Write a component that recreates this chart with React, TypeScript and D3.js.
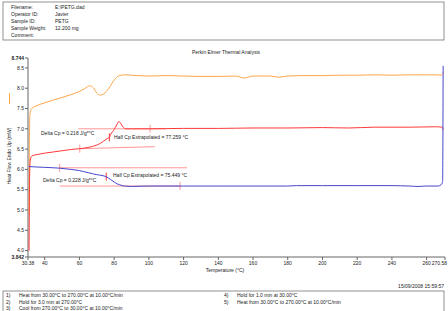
import * as d3 from "d3";

const headerLabels = ["Filename:", "Operator ID:", "Sample ID:", "Sample Weight:", "Comment:"];
const headerValues = ["E:\\PETG.dad", "Javier", "PETG", "12.200 mg", ""];

const xTickValues = [30.38, 40, 60, 80, 100, 120, 140, 160, 180, 200, 220, 240, 260, 270.58];
const xTickLabels = ["30.38", "40", "60", "80", "100", "120", "140", "160", "180", "200", "220", "240", "260", "270.58"];
const yTickValues = [8.744, 8.5, 8.0, 7.5, 7.0, 6.5, 6.0, 5.5, 5.0, 4.5, 4.0, 3.842];
const yTickLabels = ["8.744", "8.5", "8.0", "7.5", "7.0", "6.5", "6.0", "5.5", "5.0", "4.5", "4.0", "3.842"];

// orange trace (top)
const topTemps = [31.0, 31.2, 31.5, 32.5, 35, 40, 45, 50, 55, 60, 63, 66, 68, 70, 72, 74, 77, 80, 82.5, 86, 90, 100, 110, 120, 130, 140, 150, 155, 160, 170, 175, 180, 190, 200, 210, 220, 230, 240, 250, 260, 265, 268.5, 269.4, 269.8];
const topFlow = [4.9, 6.8, 7.35, 7.5, 7.56, 7.64, 7.71, 7.77, 7.84, 7.92, 7.99, 8.06, 8.01, 7.88, 7.83, 7.86, 8.0, 8.2, 8.3, 8.33, 8.32, 8.3, 8.31, 8.3, 8.29, 8.29, 8.3, 8.25, 8.3, 8.3, 8.27, 8.3, 8.31, 8.31, 8.32, 8.32, 8.33, 8.32, 8.33, 8.33, 8.33, 8.32, 8.36, 8.4];

// red trace (middle)
const midTemps = [31.0, 31.3, 31.6, 32.5, 35, 40, 45, 50, 55, 60, 65, 70, 72, 74, 76, 77.3, 78, 80, 81.5, 82.7, 84, 85.2, 86.5, 90, 100, 120, 140, 160, 180, 200, 215, 230, 250, 265, 269, 269.6];
const midFlow = [4.0, 5.8, 6.2, 6.33, 6.36, 6.4, 6.43, 6.46, 6.49, 6.51, 6.54, 6.6, 6.64, 6.7, 6.76, 6.79, 6.86, 6.98, 7.1, 7.18, 7.12, 7.04, 7.0, 7.0, 7.0, 7.01, 7.01, 7.02, 7.02, 7.03, 7.02, 7.04, 7.04, 7.05, 7.04, 6.98];

// blue trace (bottom)
const lowTemps = [30.9, 35, 40, 45, 48.6, 55, 60, 65, 70, 73, 75.4, 78, 80, 82, 84, 86, 90, 100, 120, 140, 160, 180, 185, 200, 220, 240, 250, 255, 260, 266.5, 268.3, 269.2, 269.4, 269.5];
const lowFlow = [6.07, 6.06, 6.05, 6.04, 6.03, 6.0, 5.97, 5.92, 5.87, 5.85, 5.82, 5.75, 5.69, 5.64, 5.61, 5.59, 5.58, 5.59, 5.59, 5.59, 5.59, 5.59, 5.6, 5.6, 5.6, 5.6, 5.59, 5.58, 5.59, 5.59, 5.62, 5.7, 7.0, 8.55];

// extrapolated baselines: [startT, startFlow, endT, endFlow]
const redPreBase = [60.2, 6.51, 103.5, 6.56];
const redPostBase = [59.4, 7.0, 110, 7.0];
const bluePreBase = [48.6, 6.04, 122, 6.04];
const bluePostBase = [48.6, 5.59, 118, 5.59];
const halfCpTemps = [77.259, 75.449];
const halfCpFlow = [6.79, 5.82];

const methodSteps = [
  "Heat from 30.00°C to 270.00°C at 10.00°C/min",
  "Hold for 3.0 min at 270.00°C",
  "Cool from 270.00°C to 30.00°C at 10.00°C/min",
  "Hold for 1.0 min at 30.00°C",
  "Heat from 30.00°C to 270.00°C at 10.00°C/min",
];

const W = 448;
const H = 311;
const FONT = "'Liberation Sans', Arial, sans-serif";
const ORANGE = "#ffa64a";
const RED = "#ff3838";
const ANNOT = "#ff8a8a";
const BLUE = "#4646cc";

export default function App() {
  const x = d3.scaleLinear().domain([30.38, 270.58]).range([28, 445]);
  const y = d3.scaleLinear().domain([3.842, 8.744]).range([257, 58]);
  const line = d3
    .line<[number, number]>()
    .x((d) => x(d[0]))
    .y((d) => y(d[1]))
    .curve(d3.curveMonotoneX);
  const pairs = (t: number[], v: number[]) => t.map((tt, i) => [tt, v[i]] as [number, number]);
  const seg = (b: number[]) => `M${x(b[0])},${y(b[1])}L${x(b[2])},${y(b[3])}`;
  const tick = (t: number, v: number) => `M${x(t)},${y(v) - 4}L${x(t)},${y(v) + 4}`;
  const lastTick = xTickValues.length - 1;

  return (
    <svg width={W} height={H} style={{ position: "absolute", left: 0, top: 0, background: "#fff" }} fontFamily={FONT}>
      {/* header box */}
      <rect x={3} y={2} width={441} height={38} fill="none" stroke="#777" strokeWidth={0.8} />
      {headerLabels.map((l, i) => (
        <g key={l} fontSize={5} fill="#222">
          <text x={11} y={9 + i * 7}>{l}</text>
          <text x={55} y={9 + i * 7}>{headerValues[i]}</text>
        </g>
      ))}
      <text x={226} y={54} fontSize={5} textAnchor="middle" fill="#222">Perkin Elmer Thermal Analysis</text>

      {/* axes */}
      <g stroke="#666" strokeWidth={1}>
        <line x1={28} y1={58} x2={28} y2={257} />
        <line x1={28} y1={257} x2={445} y2={257} />
        {yTickValues.map((v) => (
          <line key={v} x1={25} x2={28} y1={y(v)} y2={y(v)} />
        ))}
        {xTickValues.map((t) => (
          <line key={t} x1={x(t)} x2={x(t)} y1={257} y2={260} />
        ))}
      </g>
      {yTickValues.map((v, i) => (
        <text key={v} x={24} y={y(v) + 1.8} fontSize={5} textAnchor="end" fill="#222"
          fontWeight={i === 0 || i === yTickValues.length - 1 ? "bold" : "normal"}>
          {yTickLabels[i]}
        </text>
      ))}
      {xTickValues.map((t, i) => (
        <text key={t} x={i === lastTick ? 447 : x(t)} y={265} fontSize={5}
          textAnchor={i === lastTick ? "end" : "middle"} fill="#222">{xTickLabels[i]}</text>
      ))}
      <text x={225} y={272} fontSize={5} textAnchor="middle" fill="#222">Temperature (°C)</text>
      <text transform="translate(11,156) rotate(-90)" fontSize={5} textAnchor="middle" fill="#222">Heat Flow Endo Up (mW)</text>
      <line x1={9.5} x2={9.5} y1={93} y2={104} stroke={ORANGE} strokeWidth={1} />

      {/* baselines and markers */}
      <g stroke={ANNOT} strokeWidth={0.9} fill="none">
        <path d={seg(redPreBase)} />
        <path d={seg(redPostBase)} />
        <path d={seg(bluePreBase)} />
        <path d={seg(bluePostBase)} />
        <path d={tick(redPreBase[0], redPreBase[1])} />
        <path d={tick(redPostBase[2] - 9.3, redPostBase[1])} />
        <path d={tick(bluePreBase[0], bluePreBase[1])} />
        <path d={tick(bluePostBase[2], bluePostBase[1])} />
      </g>
      <g stroke={RED} strokeWidth={1} fill="none">
        {halfCpTemps.map((t, i) => (
          <path key={t} d={tick(t, halfCpFlow[i])} />
        ))}
      </g>

      {/* traces */}
      <path d={line(pairs(topTemps, topFlow)) ?? ""} fill="none" stroke={ORANGE} strokeWidth={1} />
      <path d={line(pairs(midTemps, midFlow)) ?? ""} fill="none" stroke={RED} strokeWidth={1} />
      <path d={line(pairs(lowTemps, lowFlow)) ?? ""} fill="none" stroke={BLUE} strokeWidth={1} />

      {/* annotations */}
      <g fontSize={5} fill="#222">
        <text x={41} y={135}>Delta Cp = 0.218 J/g*°C</text>
        <text x={114} y={139}>Half Cp Extrapolated = 77.259 °C</text>
        <text x={43} y={182}>Delta Cp = 0.228 J/g*°C</text>
        <text x={113} y={177}>Half Cp Extrapolated = 75.449 °C</text>
      </g>

      {/* footer */}
      <text x={444} y={288} fontSize={5} textAnchor="end" fill="#222">15/09/2008 15:59:57</text>
      <rect x={3} y={291} width={441} height={25} fill="none" stroke="#777" strokeWidth={0.8} />
      {methodSteps.map((s, i) => {
        const col = i < 3 ? 0 : 1;
        const row = i < 3 ? i : i - 3;
        const bx = col === 0 ? 6 : 224;
        const by = 297 + row * 6.5;
        return (
          <g key={i} fontSize={5} fill="#222">
            <text x={bx} y={by}>{`${i + 1})`}</text>
            <text x={bx + 13} y={by}>{s}</text>
          </g>
        );
      })}
    </svg>
  );
}
